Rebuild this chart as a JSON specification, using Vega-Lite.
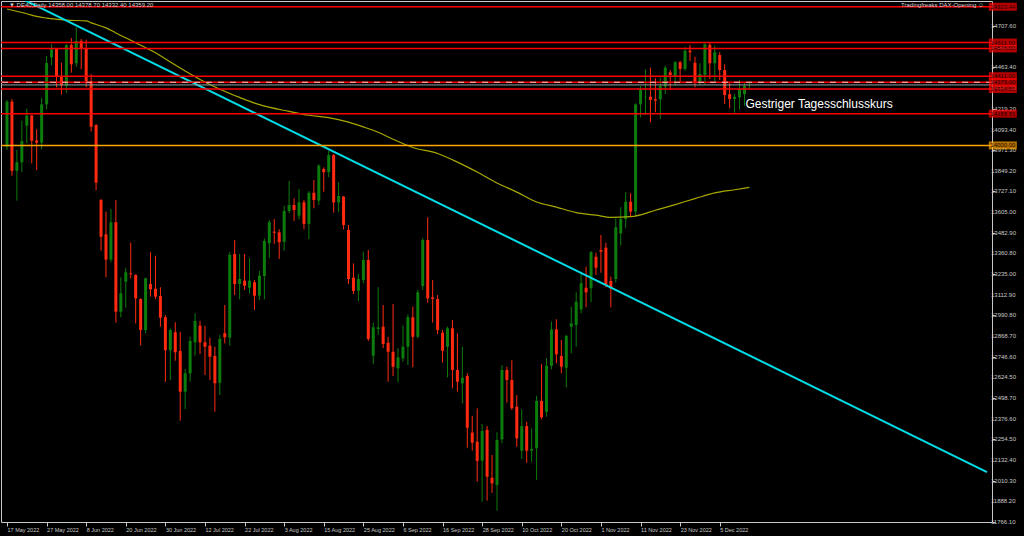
{
"$schema":"https://vega.github.io/schema/vega-lite/v6.json",
"width":991,"height":521,
"autosize":{"type":"none"},
"padding":{"left":1,"top":1,"right":32,"bottom":14},
"background":"#000000",
"config":{"view":{"stroke":"#c8c8c8","strokeWidth":1},"font":"Liberation Sans","axis":{"title":null,"grid":false,"domain":false,"labelColor":"#c8c8c8","tickColor":"#c8c8c8","labelFont":"Liberation Sans","labelFontSize":6,"labelOverlap":false,"labelFlush":false,"labelBound":false}},
"datasets":{
"candles":[
{"i":0,"o":13992,"h":14270,"l":13973,"c":14260},
{"i":1,"o":14260,"h":14276,"l":13820,"c":13850},
{"i":2,"o":13850,"h":13973,"l":13672,"c":13900},
{"i":3,"o":13900,"h":14147,"l":13842,"c":14026},
{"i":4,"o":14117,"h":14218,"l":14013,"c":14177},
{"i":5,"o":14177,"h":14180,"l":13894,"c":14028},
{"i":6,"o":14030,"h":14096,"l":13854,"c":14016},
{"i":7,"o":14016,"h":14283,"l":13977,"c":14244},
{"i":8,"o":14244,"h":14531,"l":14215,"c":14489},
{"i":9,"o":14523,"h":14600,"l":14476,"c":14571},
{"i":10,"o":14573,"h":14575,"l":14345,"c":14412},
{"i":11,"o":14408,"h":14491,"l":14301,"c":14357},
{"i":12,"o":14355,"h":14600,"l":14313,"c":14596},
{"i":13,"o":14596,"h":14638,"l":14432,"c":14482},
{"i":14,"o":14488,"h":14701,"l":14467,"c":14620},
{"i":15,"o":14620,"h":14632,"l":14452,"c":14577},
{"i":16,"o":14577,"h":14628,"l":14345,"c":14381},
{"i":17,"o":14381,"h":14424,"l":14082,"c":14111},
{"i":18,"o":14121,"h":14127,"l":13735,"c":13779},
{"i":19,"o":13676,"h":13682,"l":13375,"c":13458},
{"i":20,"o":13472,"h":13607,"l":13217,"c":13322},
{"i":21,"o":13322,"h":13623,"l":13306,"c":13544},
{"i":22,"o":13544,"h":13676,"l":12948,"c":13013},
{"i":23,"o":13013,"h":13217,"l":12980,"c":13122},
{"i":24,"o":13191,"h":13274,"l":13037,"c":13247},
{"i":25,"o":13241,"h":13423,"l":13211,"c":13235},
{"i":26,"o":13231,"h":13235,"l":12944,"c":13092},
{"i":27,"o":13088,"h":13092,"l":12813,"c":12904},
{"i":28,"o":12904,"h":13215,"l":12885,"c":13211},
{"i":29,"o":13177,"h":13366,"l":13102,"c":13146},
{"i":30,"o":13149,"h":13345,"l":13087,"c":13102},
{"i":31,"o":13106,"h":13158,"l":12924,"c":12977},
{"i":32,"o":12980,"h":12993,"l":12597,"c":12784},
{"i":33,"o":12784,"h":12914,"l":12607,"c":12904},
{"i":34,"o":12891,"h":12950,"l":12722,"c":12772},
{"i":35,"o":12780,"h":12894,"l":12366,"c":12538},
{"i":36,"o":12538,"h":12673,"l":12435,"c":12647},
{"i":37,"o":12647,"h":12864,"l":12597,"c":12839},
{"i":38,"o":12831,"h":13003,"l":12752,"c":12958},
{"i":39,"o":12930,"h":12959,"l":12762,"c":12831},
{"i":40,"o":12831,"h":12930,"l":12637,"c":12805},
{"i":41,"o":12811,"h":12859,"l":12607,"c":12746},
{"i":42,"o":12750,"h":12805,"l":12419,"c":12588},
{"i":43,"o":12591,"h":12875,"l":12518,"c":12851},
{"i":44,"o":12885,"h":13053,"l":12825,"c":12861},
{"i":45,"o":12859,"h":13366,"l":12811,"c":13350},
{"i":46,"o":13355,"h":13439,"l":13112,"c":13177},
{"i":47,"o":13177,"h":13355,"l":13087,"c":13207},
{"i":48,"o":13197,"h":13355,"l":13142,"c":13167},
{"i":49,"o":13155,"h":13330,"l":13122,"c":13197},
{"i":50,"o":13187,"h":13201,"l":13023,"c":13108},
{"i":51,"o":13108,"h":13255,"l":13082,"c":13227},
{"i":52,"o":13225,"h":13449,"l":13087,"c":13433},
{"i":53,"o":13419,"h":13557,"l":13330,"c":13544},
{"i":54,"o":13488,"h":13563,"l":13415,"c":13482},
{"i":55,"o":13484,"h":13502,"l":13326,"c":13425},
{"i":56,"o":13428,"h":13642,"l":13375,"c":13611},
{"i":57,"o":13611,"h":13789,"l":13597,"c":13646},
{"i":58,"o":13646,"h":13686,"l":13551,"c":13617},
{"i":59,"o":13583,"h":13741,"l":13561,"c":13662},
{"i":60,"o":13662,"h":13676,"l":13502,"c":13534},
{"i":61,"o":13534,"h":13729,"l":13444,"c":13719},
{"i":62,"o":13719,"h":13795,"l":13627,"c":13676},
{"i":63,"o":13672,"h":13888,"l":13646,"c":13880},
{"i":64,"o":13860,"h":13870,"l":13725,"c":13841},
{"i":65,"o":13841,"h":13969,"l":13811,"c":13943},
{"i":66,"o":13943,"h":13949,"l":13601,"c":13662},
{"i":67,"o":13662,"h":13781,"l":13603,"c":13700},
{"i":68,"o":13696,"h":13700,"l":13502,"c":13528},
{"i":69,"o":13498,"h":13528,"l":13177,"c":13207},
{"i":70,"o":13215,"h":13300,"l":13118,"c":13136},
{"i":71,"o":13138,"h":13237,"l":13076,"c":13207},
{"i":72,"o":13201,"h":13369,"l":13182,"c":13320},
{"i":73,"o":13320,"h":13379,"l":12839,"c":12851},
{"i":74,"o":12752,"h":12948,"l":12701,"c":12920},
{"i":75,"o":12910,"h":13158,"l":12875,"c":12920},
{"i":76,"o":12924,"h":13053,"l":12796,"c":12821},
{"i":77,"o":12829,"h":12864,"l":12597,"c":12775},
{"i":78,"o":12775,"h":13059,"l":12631,"c":12686},
{"i":79,"o":12677,"h":12796,"l":12594,"c":12742},
{"i":80,"o":12736,"h":12930,"l":12716,"c":12805},
{"i":81,"o":12805,"h":12997,"l":12696,"c":12980},
{"i":82,"o":12980,"h":13043,"l":12683,"c":12864},
{"i":83,"o":12864,"h":13142,"l":12855,"c":13128},
{"i":84,"o":13165,"h":13449,"l":13142,"c":13439},
{"i":85,"o":13439,"h":13573,"l":13066,"c":13092},
{"i":86,"o":13098,"h":13201,"l":12948,"c":13088},
{"i":87,"o":13088,"h":13112,"l":12880,"c":12904},
{"i":88,"o":12888,"h":12904,"l":12710,"c":12781},
{"i":89,"o":12805,"h":12924,"l":12623,"c":12914},
{"i":90,"o":12914,"h":12964,"l":12558,"c":12667},
{"i":91,"o":12667,"h":12885,"l":12538,"c":12597},
{"i":92,"o":12588,"h":12805,"l":12469,"c":12621},
{"i":93,"o":12631,"h":12647,"l":12205,"c":12324},
{"i":94,"o":12295,"h":12394,"l":12188,"c":12235},
{"i":95,"o":12241,"h":12439,"l":12004,"c":12127},
{"i":96,"o":12128,"h":12346,"l":11885,"c":12305},
{"i":97,"o":12311,"h":12334,"l":11891,"c":12033},
{"i":98,"o":12027,"h":12162,"l":11938,"c":11994},
{"i":99,"o":11984,"h":12297,"l":11831,"c":12251},
{"i":100,"o":12255,"h":12696,"l":12232,"c":12667},
{"i":101,"o":12667,"h":12686,"l":12473,"c":12607},
{"i":102,"o":12607,"h":12726,"l":12429,"c":12439},
{"i":103,"o":12449,"h":12518,"l":12211,"c":12261},
{"i":104,"o":12188,"h":12433,"l":12138,"c":12334},
{"i":105,"o":12334,"h":12360,"l":12116,"c":12188},
{"i":106,"o":12188,"h":12321,"l":12122,"c":12198},
{"i":107,"o":12202,"h":12514,"l":12014,"c":12483},
{"i":108,"o":12483,"h":12701,"l":12374,"c":12386},
{"i":109,"o":12419,"h":12736,"l":12390,"c":12692},
{"i":110,"o":12692,"h":12954,"l":12671,"c":12908},
{"i":111,"o":12908,"h":12968,"l":12707,"c":12760},
{"i":112,"o":12750,"h":12845,"l":12647,"c":12686},
{"i":113,"o":12680,"h":12875,"l":12564,"c":12869},
{"i":114,"o":12924,"h":13043,"l":12766,"c":12944},
{"i":115,"o":12934,"h":13128,"l":12805,"c":13072},
{"i":116,"o":13027,"h":13237,"l":13003,"c":13182},
{"i":117,"o":13155,"h":13280,"l":13039,"c":13128},
{"i":118,"o":13152,"h":13373,"l":13069,"c":13366},
{"i":119,"o":13339,"h":13363,"l":13231,"c":13274},
{"i":120,"o":13379,"h":13468,"l":13244,"c":13369},
{"i":121,"o":13393,"h":13423,"l":13158,"c":13171},
{"i":122,"o":13195,"h":13221,"l":13039,"c":13152},
{"i":123,"o":13207,"h":13567,"l":13187,"c":13514},
{"i":124,"o":13478,"h":13633,"l":13405,"c":13563},
{"i":125,"o":13563,"h":13722,"l":13508,"c":13666},
{"i":126,"o":13666,"h":13716,"l":13581,"c":13607},
{"i":127,"o":13607,"h":14250,"l":13583,"c":14244},
{"i":128,"o":14244,"h":14353,"l":14167,"c":14333},
{"i":129,"o":14286,"h":14452,"l":14181,"c":14289},
{"i":130,"o":14289,"h":14462,"l":14137,"c":14270},
{"i":131,"o":14274,"h":14399,"l":14197,"c":14266},
{"i":132,"o":14274,"h":14402,"l":14157,"c":14353},
{"i":133,"o":14349,"h":14473,"l":14305,"c":14462},
{"i":134,"o":14434,"h":14448,"l":14329,"c":14418},
{"i":135,"o":14408,"h":14501,"l":14353,"c":14494},
{"i":136,"o":14494,"h":14501,"l":14378,"c":14454},
{"i":137,"o":14454,"h":14583,"l":14444,"c":14562},
{"i":138,"o":14562,"h":14596,"l":14501,"c":14553},
{"i":139,"o":14491,"h":14527,"l":14345,"c":14378},
{"i":140,"o":14378,"h":14488,"l":14359,"c":14424},
{"i":141,"o":14418,"h":14606,"l":14359,"c":14600},
{"i":142,"o":14596,"h":14610,"l":14394,"c":14488},
{"i":143,"o":14488,"h":14592,"l":14378,"c":14553},
{"i":144,"o":14537,"h":14553,"l":14388,"c":14448},
{"i":145,"o":14448,"h":14482,"l":14246,"c":14299},
{"i":146,"o":14304,"h":14378,"l":14220,"c":14276},
{"i":147,"o":14276,"h":14305,"l":14194,"c":14289},
{"i":148,"o":14286,"h":14388,"l":14215,"c":14333},
{"i":149,"o":14304,"h":14369,"l":14234,"c":14353},
{"i":150,"o":14358,"h":14378.7,"l":14332.4,"c":14359.2}
],
"ma":[
{"i":0,"p":14810},{"i":4,"p":14782},{"i":6,"p":14766},{"i":8,"p":14756},{"i":12,"p":14744},{"i":16,"p":14739},{"i":17,"p":14728},{"i":20,"p":14698},{"i":22,"p":14668},{"i":26,"p":14610},{"i":30,"p":14550},{"i":33,"p":14495},{"i":36,"p":14442},{"i":39,"p":14392},{"i":43,"p":14334},{"i":47,"p":14285},{"i":51,"p":14242},{"i":57,"p":14202},{"i":61,"p":14179},{"i":65,"p":14165},{"i":69,"p":14138},{"i":72,"p":14110},{"i":75,"p":14078},{"i":78,"p":14037},{"i":82,"p":13988},{"i":87,"p":13952},{"i":91,"p":13901},{"i":95,"p":13842},{"i":99,"p":13777},{"i":103,"p":13723},{"i":107,"p":13664},{"i":111,"p":13634},{"i":115,"p":13601},{"i":119,"p":13586},{"i":122,"p":13573},{"i":126,"p":13577},{"i":131,"p":13615},{"i":135,"p":13649},{"i":139,"p":13684},{"i":143,"p":13718},{"i":147,"p":13737},{"i":150,"p":13751}
],
"trend":[{"i":0,"p":14914},{"i":198,"p":12061}],
"levels":[
{"p":14823.44,"k":"r"},{"p":14611,"k":"r"},{"p":14576,"k":"r"},{"p":14411,"k":"r"},{"p":14375,"k":"r"},{"p":14334.81,"k":"r"},{"p":14188.81,"k":"r"},{"p":14000,"k":"o"}
],
"yticks":[
{"v":14707.6},{"v":14585.5},{"v":14463.4},{"v":14341.3},{"v":14219.2},{"v":14093.4},{"v":13971.3},{"v":13849.2},{"v":13727.1},{"v":13605},{"v":13482.9},{"v":13360.8},{"v":13235},{"v":13112.9},{"v":12990.8},{"v":12868.7},{"v":12746.6},{"v":12624.5},{"v":12498.7},{"v":12376.6},{"v":12254.5},{"v":12132.4},{"v":12010.3},{"v":11888.2},{"v":11766.1}
],
"one":[{}]
},
"layer":[
{"data":{"name":"candles"},"mark":{"type":"rule","strokeWidth":1},
 "encoding":{
  "x":{"field":"i","type":"quantitative","scale":{"domain":[-0.2,198],"nice":false,"zero":false},
   "axis":{"values":[0,8,16,24,32,40,48,56,64,72,80,88,96,104,112,120,128,136,144],
    "labelExpr":"['17 May 2022','27 May 2022','8 Jun 2022','20 Jun 2022','30 Jun 2022','12 Jul 2022','22 Jul 2022','3 Aug 2022','15 Aug 2022','25 Aug 2022','6 Sep 2022','16 Sep 2022','28 Sep 2022','10 Oct 2022','20 Oct 2022','1 Nov 2022','11 Nov 2022','23 Nov 2022','5 Dec 2022'][round(datum.value/8)]",
    "labelAlign":"left","tickSize":4,"labelPadding":1,"labelFontSize":5.5,"labelOverlap":false,"labelFlush":false}},
  "y":{"field":"l","type":"quantitative","scale":{"domain":[11764.3,14857.5],"nice":false,"zero":false},
   "axis":{"orient":"right","values":[14707.6,14585.5,14463.4,14341.3,14219.2,14093.4,13971.3,13849.2,13727.1,13605,13482.9,13360.8,13235,13112.9,12990.8,12868.7,12746.6,12624.5,12498.7,12376.6,12254.5,12132.4,12010.3,11888.2,11766.1],
    "labels":false,"tickSize":3}},
  "y2":{"field":"h"},
  "color":{"condition":{"test":"datum.c >= datum.o","value":"#0c7c0c"},"value":"#ff2a10"}
 }},
{"data":{"name":"candles"},"mark":{"type":"bar","size":3,"orient":"vertical"},
 "encoding":{
  "x":{"field":"i","type":"quantitative"},
  "y":{"field":"o","type":"quantitative"},
  "y2":{"field":"c"},
  "color":{"condition":{"test":"datum.c >= datum.o","value":"#0c7c0c"},"value":"#ff2a10"}
 }},
{"data":{"name":"ma"},"mark":{"type":"line","color":"#a8a800","strokeWidth":1.2,"interpolate":"monotone"},
 "encoding":{"x":{"field":"i","type":"quantitative"},"y":{"field":"p","type":"quantitative"}}},
{"data":{"name":"trend"},"mark":{"type":"line","color":"#00dce6","strokeWidth":2,"clip":true},
 "encoding":{"x":{"field":"i","type":"quantitative"},"y":{"field":"p","type":"quantitative"}}},
{"data":{"name":"levels"},"mark":{"type":"rule","strokeWidth":1.5},
 "encoding":{"y":{"field":"p","type":"quantitative"},
  "color":{"condition":{"test":"datum.k == 'o'","value":"#ffa500"},"value":"#ff0000"}}},
{"data":{"name":"one"},"mark":{"type":"rule","strokeWidth":1.2,"strokeDash":[6,6],"color":"#ffc8c8"},
 "encoding":{"y":{"datum":14375,"type":"quantitative"}}},
{"data":{"name":"one"},"mark":{"type":"rule","strokeWidth":1,"color":"#9a9a9a"},
 "encoding":{"y":{"datum":14359.2,"type":"quantitative"}}},
{"data":{"name":"yticks"},"mark":{"type":"text","fontSize":6,"align":"left","baseline":"middle","color":"#c8c8c8","font":"Liberation Sans"},
 "encoding":{"x":{"datum":198.8,"type":"quantitative"},"y":{"field":"v","type":"quantitative"},"text":{"field":"v","format":".2f"}}},
{"data":{"name":"levels"},"mark":{"type":"tick","orient":"horizontal","size":28,"thickness":8},
 "encoding":{"x":{"datum":201.2,"type":"quantitative"},"y":{"field":"p","type":"quantitative"},
  "color":{"condition":{"test":"datum.k == 'o'","value":"#ffa500"},"value":"#ff0000"}}},
{"data":{"name":"levels"},"mark":{"type":"text","fontSize":6,"align":"center","baseline":"middle","color":"#2a0000","font":"Liberation Sans"},
 "encoding":{"x":{"datum":201.2,"type":"quantitative"},"y":{"field":"p","type":"quantitative"},"text":{"field":"p","format":".2f"}}},
{"data":{"name":"one"},"mark":{"type":"text","text":"▼ DE40,Daily  14358.00 14378.70 14332.40 14359.20","fontSize":6,"align":"left","baseline":"middle","color":"#d0d0d0"},
 "encoding":{"x":{"datum":0.4,"type":"quantitative"},"y":{"datum":14831,"type":"quantitative"}}},
{"data":{"name":"one"},"mark":{"type":"text","text":"Tradingfreaks DAX-Opening ☺","fontSize":6,"align":"right","baseline":"middle","color":"#d0d0d0"},
 "encoding":{"x":{"datum":197.4,"type":"quantitative"},"y":{"datum":14831,"type":"quantitative"}}},
{"data":{"name":"one"},"mark":{"type":"text","text":"Gestriger Tagesschlusskurs","fontSize":12,"align":"left","baseline":"middle","color":"#ffffff","font":"Liberation Sans"},
 "encoding":{"x":{"datum":149.2,"type":"quantitative"},"y":{"datum":14246,"type":"quantitative"}}}
]
}
